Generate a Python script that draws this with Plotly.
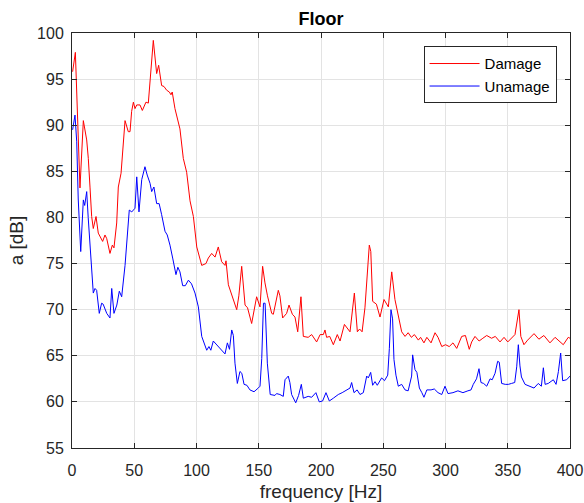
import plotly.graph_objects as go

damage_freq = [0.5, 2.7, 6.4, 9.1, 11.8, 13.1, 14.5, 15.8, 17.1, 19.3, 21.1, 23.0, 24.6, 26.5, 27.9, 30.5,
               32.4, 33.7, 35.9, 37.2, 39.4, 42.6, 45.2, 46.6, 47.9, 49.3, 50.6, 52.0, 54.6, 56.5, 59.4,
               61.3, 62.7, 65.3, 68.0, 69.6, 72.0, 73.9, 76.0, 78.2, 79.5, 80.5, 82.7, 86.7, 89.4, 92.1,
               94.8, 97.5, 100.2, 104.2, 107.6, 109.5, 112.2, 114.9, 117.5, 120.2, 122.9, 123.7, 125.6,
               128.3, 132.3, 134.0, 136.3, 139.0, 141.0, 144.3, 148.3, 151.0, 153.1, 155.0, 157.0, 160.4,
               161.7, 165.7, 167.0, 169.2, 172.4, 174.3, 177.0, 179.1, 181.3, 183.9, 185.8, 189.7, 192.5,
               196.5, 199.3, 201.9, 203.2, 204.5, 207.0, 209.9, 213.1, 215.3, 218.8, 223.3, 226.8, 229.2,
               231.0, 233.0, 235.3, 238.8, 240.0, 241.5, 244.5, 247.4, 250.6, 254.1, 256.8, 259.4, 262.1,
               264.8, 267.5, 270.0, 272.6, 275.0, 278.2, 280.0, 282.7, 285.0, 288.4, 291.6, 294.0, 297.0,
               300.0, 303.0, 306.0, 309.0, 313.0, 316.0, 319.1, 321.0, 323.7, 327.0, 330.0, 333.1, 337.0,
               340.0, 343.8, 347.0, 350.0, 355.8, 359.0, 360.5, 363.0, 366.0, 371.1, 375.0, 379.0, 383.9,
               388.0, 391.0, 394.6, 398.6, 400.0]
damage_db = [95.8, 97.9, 83.2, 90.5, 88.4, 86.4, 83.2, 80.1, 78.8, 80.1, 78.3, 77.8, 77.4, 78.1, 77.7, 76.1,
             77.0, 76.7, 79.4, 83.3, 84.8, 90.5, 89.3, 89.3, 91.5, 92.5, 91.8, 92.2, 92.2, 91.6, 92.5,
             92.4, 95.1, 99.2, 95.6, 96.5, 94.3, 94.2, 93.8, 93.6, 93.3, 93.6, 91.8, 89.6, 86.4, 84.9,
             81.8, 80.1, 76.8, 74.8, 75.0, 75.6, 76.1, 75.7, 76.8, 75.2, 74.8, 75.3, 72.7,
             71.6, 70.0, 71.5, 74.7, 70.5, 70.2, 68.5, 71.4, 70.3, 74.7, 72.9, 71.5, 69.6,
             69.5, 72.1, 71.5, 69.1, 69.6, 70.5, 69.5, 69.2, 67.6, 71.4, 67.1, 67.0, 67.3,
             66.5, 67.3, 67.3, 67.8, 67.0, 67.1, 66.2, 67.3, 66.6, 68.4, 67.6, 71.8, 67.6,
             67.9, 67.6, 70.2, 77.0, 76.3, 70.9, 70.6, 69.2, 71.1, 70.3, 74.1, 71.1, 69.2,
             67.6, 67.1, 67.5, 67.0, 67.3, 66.7, 67.0, 66.4, 67.0, 66.4, 67.5, 67.0, 66.0,
             66.2, 66.0, 66.4, 65.8, 67.1, 67.2, 65.7, 66.5, 67.1, 66.6, 66.9, 67.2, 66.9,
             67.1, 66.5, 67.0, 66.5, 67.3, 70.0, 67.1, 66.2, 66.7, 67.4, 66.8, 67.2, 66.4,
             67.0, 66.6, 66.2, 67.0, 66.9]

unamage_freq = [0.5, 2.4, 3.8, 5.0, 7.0, 9.1, 10.2, 11.8, 13.0, 14.5, 17.1, 18.5, 19.8, 21.9, 23.8, 25.0,
                27.9, 30.5, 31.9, 33.7, 36.0, 38.0, 39.9, 42.6, 46.0, 48.0, 50.6, 52.0, 53.8, 56.0, 58.6,
                60.4, 62.7, 64.0, 65.8, 68.0, 70.0, 72.0, 74.7, 76.5, 78.7, 81.0, 83.5, 85.0, 86.7, 88.9,
                91.0, 93.5, 96.0, 98.8, 101.5, 104.2, 108.2, 110.0, 111.5, 113.5, 117.5, 120.2, 122.9,
                124.8, 126.5, 128.3, 129.6, 130.9, 132.8, 134.9, 136.4, 138.2, 140.5, 142.9, 146.2, 149.6,
                151.0, 152.4, 153.8, 155.1, 156.9, 159.2, 163.0, 164.3, 167.0, 169.7, 171.1, 173.7, 175.0,
                176.4, 179.7, 182.0, 184.2, 185.8, 189.7, 192.5, 195.9, 198.6, 201.3, 204.0, 206.7, 209.9,
                213.9, 217.0, 220.0, 223.3, 224.6, 226.5, 229.0, 231.3, 234.0, 236.7, 238.0, 239.9, 241.5,
                243.4, 245.2, 248.7, 251.0, 253.6, 254.9, 256.2, 257.5, 258.6, 260.2, 262.1, 264.8, 267.5,
                270.0, 272.8, 273.6, 275.5, 277.0, 279.0, 281.0, 282.7, 285.0, 288.4, 291.0, 294.0, 297.0,
                299.6, 302.0, 306.0, 310.0, 314.0, 318.0, 320.5, 322.3, 324.9, 326.9, 328.5, 330.6, 333.1,
                335.8, 337.5, 339.8, 341.9, 343.2, 345.1, 348.0, 350.5, 353.0, 355.6, 357.2, 358.5, 359.8,
                361.0, 363.9, 367.5, 371.1, 374.5, 377.0, 378.6, 380.0, 382.5, 386.6, 388.8, 390.7, 392.5,
                394.1, 397.3, 400.0]
unamage_db = [89.5, 91.1, 88.2, 82.0, 76.3, 81.9, 81.3, 82.8, 80.0, 76.8, 71.8, 72.3, 72.1, 69.6, 70.7, 70.6,
              69.6, 69.1, 72.3, 69.6, 70.5, 72.0, 71.4, 74.8, 80.8, 80.6, 81.0, 84.4, 80.6, 84.1, 85.5,
              84.6, 83.7, 82.8, 83.3, 81.5, 81.5, 80.3, 78.5, 78.1, 77.0, 75.5, 73.8, 74.6, 74.1, 72.6,
              72.6, 73.2, 72.8, 71.8, 70.3, 67.1, 65.6, 66.0, 65.6, 66.6, 66.0, 65.6, 65.2,
              66.4, 65.7, 67.8, 67.2, 64.2, 62.0, 63.3, 63.1, 61.9, 61.8, 61.3, 61.1, 61.5,
              61.7, 64.7, 70.7, 70.7, 64.2, 60.8, 60.7, 60.9, 60.8, 60.6, 62.4, 62.8, 62.1,
              60.8, 59.9, 60.7, 61.9, 60.4, 60.6, 60.5, 61.0, 60.0, 60.1, 61.0, 60.1, 60.4,
              60.8, 61.0, 61.2, 61.5, 62.1, 61.0, 61.3, 60.8, 61.0, 62.8, 62.6, 63.2, 61.8,
              62.2, 61.8, 62.6, 62.3, 62.9, 65.8, 70.0, 69.0, 64.6, 62.9, 61.7, 61.9, 61.3,
              61.2, 62.8, 65.1, 63.5, 63.2, 61.5, 61.0, 60.5, 61.3, 61.3, 61.4, 61.0, 60.8,
              61.7, 60.9, 61.0, 61.2, 61.0, 61.2, 61.3, 61.9, 62.5, 63.6, 62.1, 62.0, 61.7,
              62.5, 62.4, 63.1, 64.4, 64.3, 62.0, 61.9, 61.9, 62.0, 62.1, 63.8, 66.2, 63.9,
              62.7, 61.9, 61.7, 61.5, 62.0, 61.7, 63.7, 61.9, 62.0, 62.4, 61.9, 63.3, 65.3,
              62.3, 62.4, 62.8]

x_ticks = [0, 50, 100, 150, 200, 250, 300, 350, 400]
y_ticks = [55, 60, 65, 70, 75, 80, 85, 90, 95, 100]

FONT = "Liberation Sans, Arial, sans-serif"
AXC = "#262626"
GRID = "#e3e3e3"

fig = go.Figure()
fig.add_trace(go.Scatter(x=damage_freq, y=damage_db, mode="lines", name="Damage",
                         line=dict(color="#ff0000", width=1)))
fig.add_trace(go.Scatter(x=unamage_freq, y=unamage_db, mode="lines", name="Unamage",
                         line=dict(color="#0000ff", width=1)))

axis_common = dict(showline=True, linecolor=AXC, linewidth=1, mirror="ticks",
                   ticks="inside", ticklen=5, tickcolor=AXC, tickwidth=1,
                   showgrid=True, gridcolor=GRID, gridwidth=1, zeroline=False,
                   automargin=False,
                   tickfont=dict(family=FONT, size=16, color=AXC))

fig.update_xaxes(range=[0, 400], tickvals=x_ticks, ticklabelstandoff=8,
                 title=dict(text="frequency [Hz]", font=dict(family=FONT, size=19, color=AXC), standoff=6),
                 **axis_common)
fig.update_yaxes(range=[55, 100], tickvals=y_ticks, ticklabelstandoff=4,
                 title=dict(text="a [dB]", font=dict(family=FONT, size=19, color=AXC), standoff=8),
                 **axis_common)

fig.update_layout(
    width=584, height=503,
    margin=dict(l=72, r=14, t=33, b=55),
    paper_bgcolor="white", plot_bgcolor="white",
    title=dict(text="<b>Floor</b>", x=(72 + 570) / 2 / 584, xanchor="center", y=1 - 19 / 503, yanchor="middle",
               font=dict(family=FONT, size=18, color="black")),
    legend=dict(x=0.973, y=0.968, xanchor="right", yanchor="top", bgcolor="white",
                bordercolor=AXC, borderwidth=1, font=dict(family=FONT, size=15, color="black"),
                tracegroupgap=0, itemwidth=50),
    showlegend=True,
)

fig.write_html("out.html", config={"displayModeBar": False},
               post_script="document.body.style.margin='0';")
